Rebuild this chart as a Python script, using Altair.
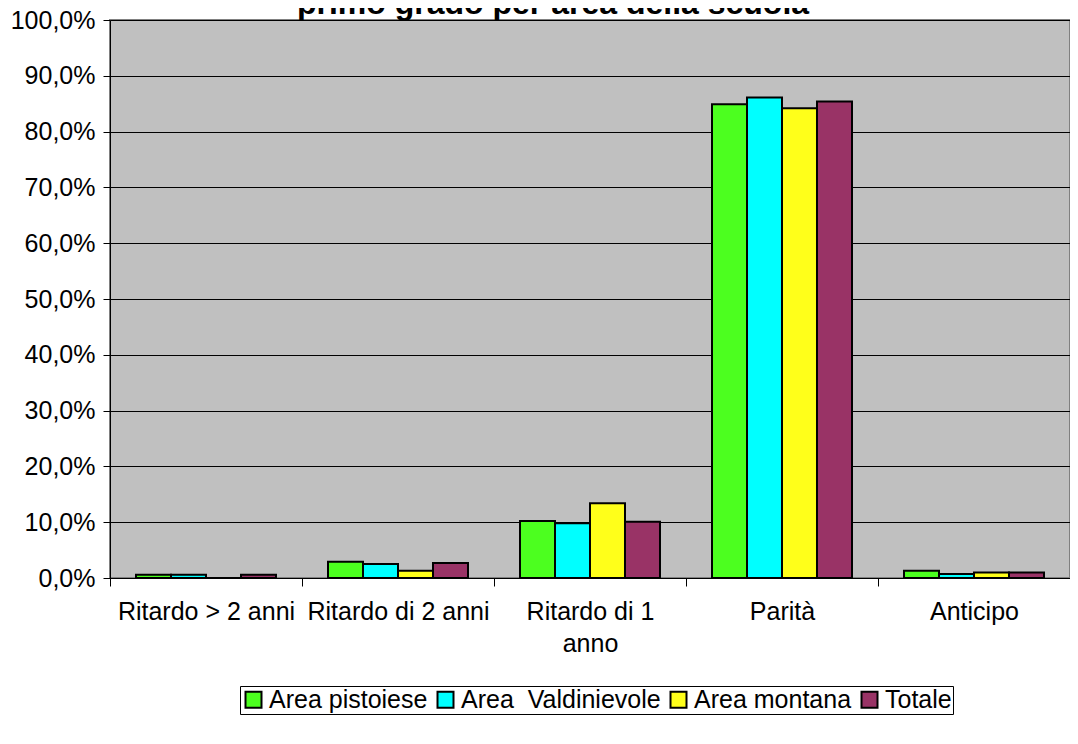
import altair as alt
import pandas as pd

categories = ["Ritardo > 2 anni", "Ritardo di 2 anni", "Ritardo di 1\nanno", "Parità", "Anticipo"]
series = ["Area pistoiese", "Area\u00a0\u00a0Valdinievole", "Area montana", "Totale"]
colors = ["#4CFF1F", "#00FFFF", "#FFFF1A", "#993366"]

v_pistoiese = [0.6, 2.9, 10.2, 84.9, 1.3]
v_valdinievole = [0.6, 2.5, 9.8, 86.1, 0.7]
v_montana = [0.0, 1.3, 13.4, 84.2, 1.0]
v_totale = [0.6, 2.7, 10.1, 85.4, 1.0]

rows = []
for s, vals in zip(series, [v_pistoiese, v_valdinievole, v_montana, v_totale]):
    for c, v in zip(categories, vals):
        rows.append({"cat": c, "serie": s, "val": v})
df = pd.DataFrame(rows)

FONT = "Liberation Sans"

bars = alt.Chart(df).mark_bar(stroke="black", strokeWidth=2).encode(
    x=alt.X("cat:N", sort=categories, title=None,
            scale=alt.Scale(paddingInner=0, paddingOuter=0),
            axis=alt.Axis(labelAngle=0, labelFontSize=25, labelFont=FONT, labelColor="black",
                          labelExpr="split(datum.label, '\\n')", labelPadding=13,
                          labelLineHeight=32, labelBaseline="top", labelLimit=300,
                          tickBand="extent", tickSize=8, tickColor="black",
                          domainColor="black", domainWidth=1, grid=False)),
    xOffset=alt.XOffset("serie:N", sort=series,
                        scale=alt.Scale(paddingInner=0, paddingOuter=0.743)),
    y=alt.Y("val:Q", title=None,
            scale=alt.Scale(domain=[0, 100], nice=False),
            axis=alt.Axis(values=list(range(0, 101, 10)), labelFontSize=25, labelFont=FONT,
                          labelColor="black",
                          labelExpr="replace(format(datum.value, '.1f'), '.', ',') + '%'",
                          tickSize=7, tickColor="black", labelPadding=8,
                          domainColor="black", gridColor="black", gridWidth=1, gridOpacity=1)),
    color=alt.Color("serie:N", sort=series,
                    scale=alt.Scale(domain=series, range=colors),
                    legend=alt.Legend(title=None, orient="none", direction="horizontal",
                                      legendX=130, legendY=666,
                                      symbolType="square", symbolSize=256,
                                      symbolStrokeWidth=2, symbolStrokeColor="black",
                                      labelFontSize=25, labelFont=FONT, labelColor="black",
                                      labelLimit=400,
                                      columnPadding=5, symbolOffset=0, labelOffset=3,
                                      padding=1, strokeColor="black", fillColor="white")),
)

title = alt.Chart(pd.DataFrame({"t": ["primo grado per area della scuola"]})).mark_text(
    font=FONT, fontSize=32, fontWeight="bold", color="black", baseline="alphabetic", align="center"
).encode(x=alt.value(443), y=alt.value(-6), text="t:N")

chart = alt.layer(bars, title).properties(
    width=960, height=558,
    background="white",
    autosize=alt.AutoSizeParams(type="none"),
    padding={"left": 102, "top": 12, "right": 0, "bottom": 156},
).configure_view(fill="#C0C0C0", stroke="#808080", strokeWidth=2)

chart.save("out.html", embed_options={"renderer": "svg", "actions": False})
